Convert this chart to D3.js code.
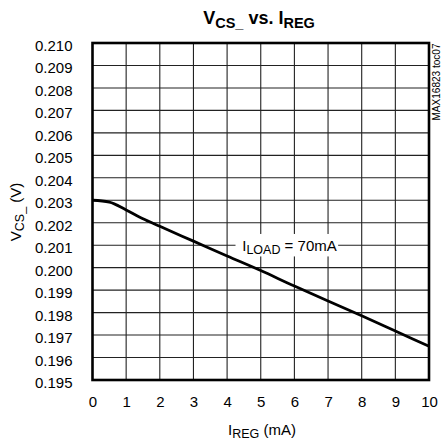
<!DOCTYPE html>
<html><head><meta charset="utf-8">
<script src="https://cdn.jsdelivr.net/npm/d3@7"></script>
<style>body{margin:0;background:#fff}svg{display:block}text{font-family:"Liberation Sans",Arial,sans-serif;fill:#000}</style>
</head><body>
<script>
const xVals = [0, 0.5, 1, 1.5, 2, 3, 4, 5, 6, 7, 8, 9, 10];
const yVals = [0.2030, 0.20292, 0.20257, 0.20218, 0.20184, 0.20118, 0.20052, 0.19987, 0.19918, 0.19852, 0.19786, 0.19718, 0.19650];
const xTicks = [0,1,2,3,4,5,6,7,8,9,10];
const yTicks = [0.195,0.196,0.197,0.198,0.199,0.200,0.201,0.202,0.203,0.204,0.205,0.206,0.207,0.208,0.209,0.210];

const W = 442, H = 445;
const m = {l: 92.5, r: 429, t: 43, b: 380};
const svg = d3.select("body").append("svg").attr("width", W).attr("height", H);
const x = d3.scaleLinear().domain([0, 10]).range([m.l, m.r]);
const y = d3.scaleLinear().domain([0.195, 0.210]).range([m.b, m.t]);

// grid
const g = svg.append("g");
g.selectAll("line.v").data(xTicks.slice(1, -1)).enter().append("line")
  .attr("x1", d => x(d)).attr("x2", d => x(d)).attr("y1", m.t).attr("y2", m.b)
  .attr("stroke", "#222").attr("stroke-width", 1.1);
g.selectAll("line.h").data(yTicks.slice(1, -1)).enter().append("line")
  .attr("y1", d => y(d)).attr("y2", d => y(d)).attr("x1", m.l).attr("x2", m.r)
  .attr("stroke", "#222").attr("stroke-width", 1.1);

// label background
const lbl = svg.append("g");
lbl.append("rect").attr("x", x(4.25)).attr("y", y(0.2015)).attr("width", x(7.3) - x(4.25)).attr("height", y(0.2005) - y(0.2015)).attr("fill", "#fff");
const lt = lbl.append("text").attr("x", x(4.45)).attr("y", y(0.201) + 5.5).attr("font-size", 15);
lt.append("tspan").text("I");
lt.append("tspan").attr("font-size", 12.5).attr("dy", 3).text("LOAD");
lt.append("tspan").attr("dy", -3).text(" = 70mA");

// line
svg.append("path").datum(xVals.map((d, i) => [d, yVals[i]]))
  .attr("d", d3.line().x(d => x(d[0])).y(d => y(d[1])).curve(d3.curveMonotoneX))
  .attr("fill", "none").attr("stroke", "#000").attr("stroke-width", 2.8);

// border
svg.append("rect").attr("x", m.l).attr("y", m.t).attr("width", m.r - m.l).attr("height", m.b - m.t)
  .attr("fill", "none").attr("stroke", "#000").attr("stroke-width", 2.6);

// axes
const xa = svg.append("g").attr("transform", `translate(0,${m.b})`)
  .call(d3.axisBottom(x).tickValues(xTicks).tickSize(0).tickPadding(16).tickFormat(d3.format("d")));
xa.select(".domain").remove();
xa.selectAll("text").attr("font-size", 15).attr("font-family", '"Liberation Sans",Arial,sans-serif').attr("fill", "#000");
const ya = svg.append("g").attr("transform", `translate(${m.l},0)`)
  .call(d3.axisLeft(y).tickValues(yTicks).tickSize(0).tickPadding(20).tickFormat(d3.format(".3f")));
ya.select(".domain").remove();
ya.selectAll("text").attr("font-size", 15).attr("dy", "0.5em").attr("font-family", '"Liberation Sans",Arial,sans-serif').attr("fill", "#000");

// title
const t = svg.append("text").attr("x", 259).attr("y", 24).attr("text-anchor", "middle").attr("font-weight", "bold").attr("font-size", 18);
t.append("tspan").text("V");
t.append("tspan").attr("font-size", 14.5).attr("dy", 4).text("CS_");
t.append("tspan").attr("dy", -4).text(" vs. I");
t.append("tspan").attr("font-size", 14.5).attr("dy", 4).text("REG");

// x title
const xt = svg.append("text").attr("x", 262).attr("y", 435).attr("text-anchor", "middle").attr("font-size", 15);
xt.append("tspan").text("I");
xt.append("tspan").attr("font-size", 12.5).attr("dy", 3).text("REG");
xt.append("tspan").attr("dy", -3).text(" (mA)");

// y title
const yt = svg.append("text").attr("transform", "translate(21,212) rotate(-90)").attr("text-anchor", "middle").attr("font-size", 15);
yt.append("tspan").text("V");
yt.append("tspan").attr("font-size", 12.5).attr("dy", 3).text("CS_");
yt.append("tspan").attr("dy", -3).text(" (V)");

// watermark
svg.append("text").attr("transform", "translate(440,82) rotate(-90)").attr("text-anchor", "middle").attr("font-size", 10)
  .attr("textLength", 77).attr("lengthAdjust", "spacingAndGlyphs").text("MAX16823 toc07");
</script>
</body></html>
